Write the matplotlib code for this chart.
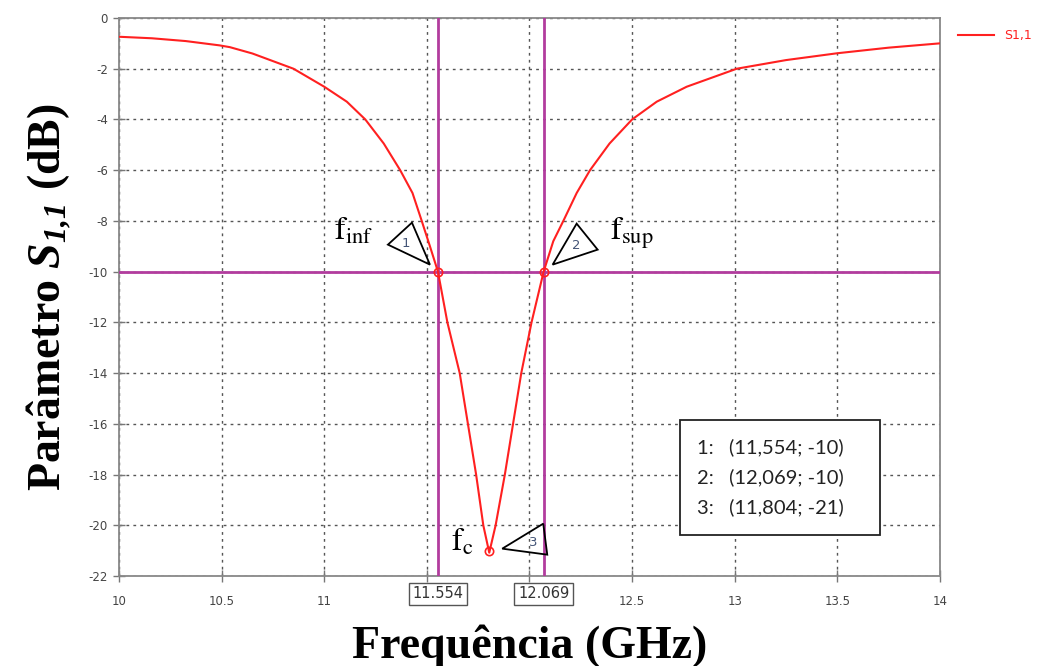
import numpy as np
import matplotlib
matplotlib.use('Agg')
import matplotlib.pyplot as plt
import matplotlib.transforms as mtransforms
from matplotlib.patches import Polygon, Rectangle

# curve
freq = [10.0, 10.16, 10.325, 10.49, 10.54, 10.65, 10.70, 10.85, 11.0, 11.11, 11.2, 11.29,
        11.37, 11.43, 11.475, 11.515, 11.554,
        11.60, 11.66, 11.70, 11.74, 11.775, 11.804, 11.835, 11.88, 11.92, 11.96, 12.01,
        12.069, 12.116, 12.165, 12.23, 12.295, 12.39, 12.5, 12.62, 12.766, 13.01,
        13.25, 13.5, 13.75, 14.0]
s11 = [-0.74, -0.80, -0.91, -1.08, -1.15, -1.40, -1.55, -2.0, -2.71, -3.3, -4.0, -4.95,
       -6.0, -6.9, -8.0, -9.0, -10.0,
       -12.0, -14.0, -16.0, -18.0, -20.0, -21.08, -20.0, -18.0, -16.0, -14.0, -12.0,
       -10.0, -8.8, -8.0, -6.9, -6.0, -4.95, -4.0, -3.3, -2.71, -2.0,
       -1.66, -1.39, -1.17, -1.0]

marker_freq = [11.554, 12.069, 11.804]
marker_s11 = [-10, -10, -21]
marker_ids = ['1', '2', '3']
band_labels = [r'$\mathrm{f}_{\mathrm{inf}}$', r'$\mathrm{f}_{\mathrm{sup}}$', r'$\mathrm{f}_{\mathrm{c}}$']
limit_db = -10

x_ticks = [10, 10.5, 11, 11.5, 12, 12.5, 13, 13.5, 14]
x_tick_labels = ['10', '10.5', '11', '', '', '12.5', '13', '13.5', '14']
y_ticks = list(range(0, -23, -2))

plt.rcParams['axes.unicode_minus'] = False
plt.rcParams['mathtext.fontset'] = 'custom'
plt.rcParams['mathtext.rm'] = 'Liberation Serif:bold:italic'
plt.rcParams['mathtext.it'] = 'Liberation Serif:bold:italic'

red = '#ff2020'
purple = '#b23c9e'

fig = plt.figure(figsize=(10.43, 6.66), dpi=100)
ax = fig.add_axes([0.1141, 0.1351, 0.7871, 0.8379])

ax.plot(freq, s11, color=red, lw=1.5, label='S1,1', zorder=4)
ax.axhline(limit_db, color=purple, lw=2, zorder=3)
for f in marker_freq[:2]:
    ax.axvline(f, color=purple, lw=2, zorder=3)
ax.plot(marker_freq, marker_s11, 'o', mfc='none', mec=red, ms=6, mew=1.2, zorder=5)

ax.set_xlim(10, 14)
ax.set_ylim(-22, 0)
ax.set_xticks(x_ticks)
ax.set_xticklabels(x_tick_labels)
ax.set_yticks(y_ticks)
ax.tick_params(direction='inout', length=9, width=1, color='#777777',
               labelsize=8.5, labelcolor='#444444')
ax.tick_params(axis='x', pad=9)
for sp in ax.spines.values():
    sp.set_color('#888888')
    sp.set_linewidth(1.3)
ax.grid(True, color='#555555', lw=1, linestyle=(0, (2, 3)))

ax.set_xlabel('Frequência (GHz)', family='Liberation Serif', fontweight='bold',
              fontsize=33, labelpad=12)
ax.set_ylabel(r'Parâmetro $S_{1{,}1}$ (dB)', family='Liberation Serif',
              fontweight='bold', fontsize=33, labelpad=12)

# boxed marker frequencies under the axis
for f in marker_freq[:2]:
    ax.text(f, -0.032, f'{f:.3f}', transform=ax.get_xaxis_transform(), ha='center',
            va='center', fontsize=10.5, color='#333333',
            bbox=dict(boxstyle='square,pad=0.25', fc='white', ec='#555555', lw=1))

# triangle flags (pixel offsets from the marker point)
tri_shapes = [[(-8, 7), (-50, 27), (-26, 49)],
              [(9, 7), (54, 22), (33, 48)],
              [(13, 2), (54, 27), (58, -4)]]
text_pos = [(-32, 28), (33, 26), (44, 8)]
label_off = [(-104, 32), (66, 32), (-38, 0)]
for i in range(3):
    trans = mtransforms.Affine2D() + mtransforms.ScaledTranslation(
        marker_freq[i], marker_s11[i], ax.transData)
    ax.add_patch(Polygon(tri_shapes[i], closed=True, fill=False, ec='black', lw=1.3,
                         transform=trans, clip_on=False, zorder=6))
    ax.annotate(marker_ids[i], (marker_freq[i], marker_s11[i]), xytext=text_pos[i],
                textcoords='offset pixels', ha='center', va='center', fontsize=9.5,
                color='#445577', family='DejaVu Sans')
    ax.annotate(band_labels[i], (marker_freq[i], marker_s11[i]), xytext=label_off[i],
                textcoords='offset pixels', ha='left', va='baseline', fontsize=23,
                math_fontfamily='stix', color='black')

# marker readout box
box_lines = []
for i in range(3):
    fs = f'{marker_freq[i]:.3f}'.replace('.', ',')
    box_lines.append(f'{marker_ids[i]}:   ({fs}; {marker_s11[i]})')
ax.add_patch(Rectangle((0.683, 0.0735), 0.2436, 0.206, transform=ax.transAxes,
                       fc='white', ec='#222222', lw=1.3, zorder=6))
ax.text(0.704, 0.1765, '\n'.join(box_lines), transform=ax.transAxes, ha='left', va='center',
        fontsize=14.5, family='Lato', color='#222222', linespacing=1.82, zorder=7)

ax.legend(loc='upper left', bbox_to_anchor=(1.008, 1.0), frameon=False, fontsize=9,
          handlelength=2.9, labelcolor=red)

fig.savefig('out.png', dpi=100)
